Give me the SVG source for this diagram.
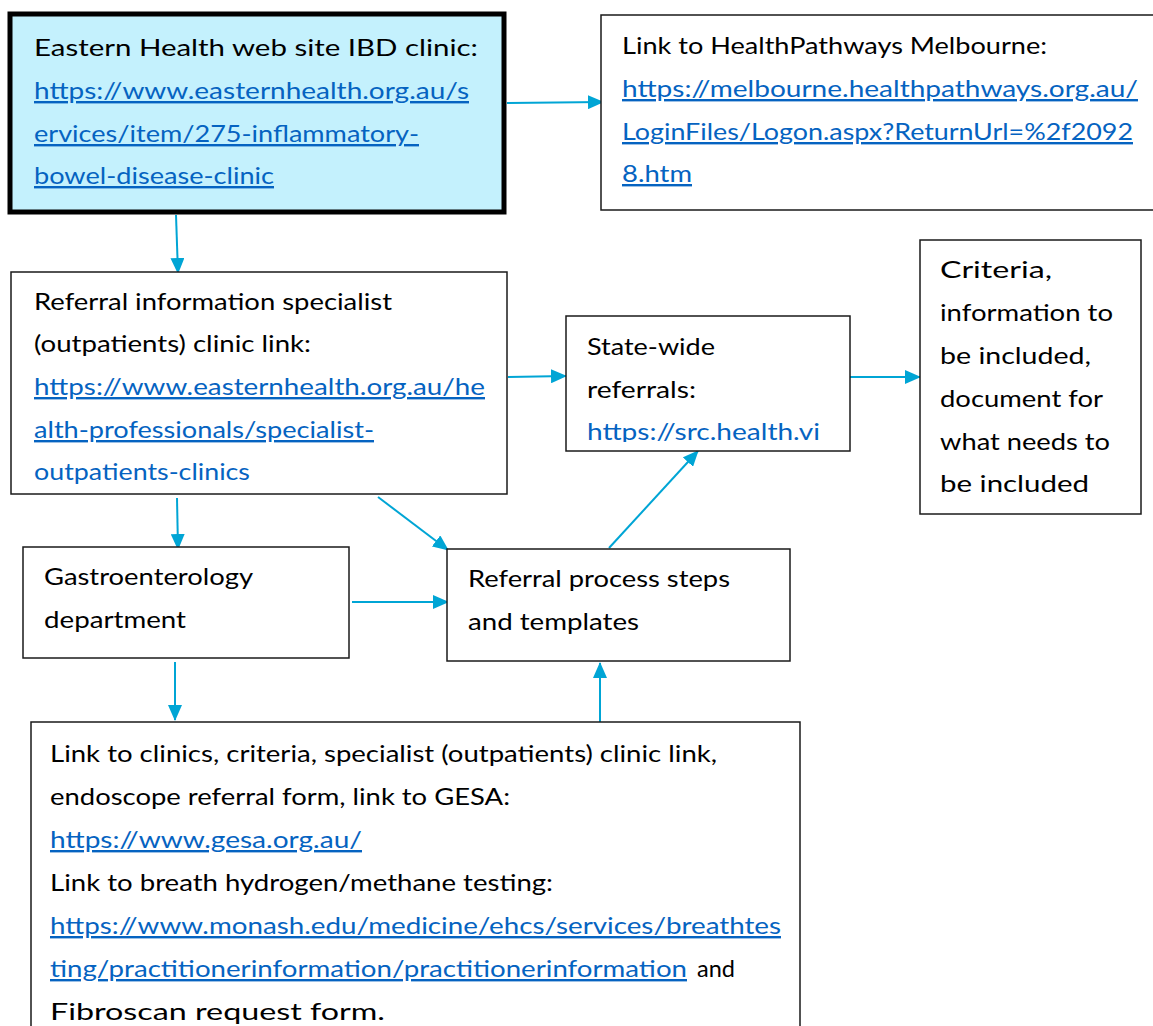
<svg xmlns="http://www.w3.org/2000/svg" width="1153" height="1026" viewBox="0 0 1153 1026">
<style>
.box{fill:#fff;stroke:#1a1a1a;stroke-width:1.5}
.main{fill:#c4f1fd;stroke:#000;stroke-width:5}
text{font-family:Lato,"Open Sans","Liberation Sans",sans-serif;font-size:24px;fill:#000}
.lk{fill:#0563c1;text-decoration:underline}
.lkn{fill:#0563c1}
.c{stroke:#00a5d5;stroke-width:2;fill:none;marker-end:url(#ah)}
</style>
<defs>
<marker id="ah" markerUnits="userSpaceOnUse" markerWidth="16" markerHeight="14" refX="15" refY="7" orient="auto">
<path d="M0,0 L16,7 L0,14 Z" fill="#00a5d5"/>
</marker>
<clipPath id="clip4"><rect x="566" y="316" width="284" height="126"/></clipPath>
</defs>
<g id="connectors">
<line class="c" x1="507" y1="103" x2="603" y2="102"/>
<line class="c" x1="176" y1="215" x2="178" y2="273"/>
<line class="c" x1="508" y1="377" x2="566" y2="376"/>
<line class="c" x1="850" y1="377" x2="920" y2="377"/>
<line class="c" x1="177" y1="498" x2="178" y2="549"/>
<line class="c" x1="378" y1="497" x2="448" y2="550"/>
<line class="c" x1="352" y1="602" x2="448" y2="602"/>
<line class="c" x1="609" y1="548" x2="698" y2="451"/>
<line class="c" x1="175" y1="662" x2="175" y2="720"/>
<line class="c" x1="600" y1="722" x2="600" y2="663"/>
</g>
<g id="n1">
<rect class="main" x="10" y="14" width="494" height="198"/>
<text x="34" y="56" textLength="444" lengthAdjust="spacingAndGlyphs">Eastern Health web site IBD clinic:</text>
<text class="lk" x="34" y="99" textLength="435" lengthAdjust="spacingAndGlyphs">https://www.easternhealth.org.au/s</text>
<text class="lk" x="34" y="142" textLength="385" lengthAdjust="spacingAndGlyphs">ervices/item/275-inflammatory-</text>
<text class="lk" x="34" y="184" textLength="240" lengthAdjust="spacingAndGlyphs">bowel-disease-clinic</text>
</g>
<g id="n2">
<path class="box" d="M1155,15 H601 V210 H1155"/>
<text x="622" y="54" textLength="425" lengthAdjust="spacingAndGlyphs">Link to HealthPathways Melbourne:</text>
<text class="lk" x="622" y="97" textLength="516" lengthAdjust="spacingAndGlyphs">https://melbourne.healthpathways.org.au/</text>
<text class="lk" x="622" y="140" textLength="511" lengthAdjust="spacingAndGlyphs">LoginFiles/Logon.aspx?ReturnUrl=%2f2092</text>
<text class="lk" x="622" y="182" textLength="70" lengthAdjust="spacingAndGlyphs">8.htm</text>
</g>
<g id="n3">
<rect class="box" x="11" y="272" width="496" height="222"/>
<text x="34" y="310" textLength="358" lengthAdjust="spacingAndGlyphs">Referral information specialist</text>
<text x="34" y="352" textLength="277" lengthAdjust="spacingAndGlyphs">(outpatients) clinic link:</text>
<text class="lk" x="34" y="395" textLength="451" lengthAdjust="spacingAndGlyphs">https://www.easternhealth.org.au/he</text>
<text class="lk" x="34" y="438" textLength="340" lengthAdjust="spacingAndGlyphs">alth-professionals/specialist-</text>
<text class="lkn" x="34" y="480" textLength="216" lengthAdjust="spacingAndGlyphs">outpatients-clinics</text>
</g>
<g id="n4">
<rect class="box" x="566" y="316" width="284" height="135"/>
<text x="587" y="355" textLength="128" lengthAdjust="spacingAndGlyphs">State-wide</text>
<text x="587" y="398" textLength="109" lengthAdjust="spacingAndGlyphs">referrals:</text>
<text class="lkn" x="587" y="440" textLength="233" lengthAdjust="spacingAndGlyphs" clip-path="url(#clip4)">https://src.health.vi</text>
</g>
<g id="n5">
<rect class="box" x="920" y="240" width="221" height="274"/>
<text x="940" y="278" textLength="112" lengthAdjust="spacingAndGlyphs">Criteria,</text>
<text x="940" y="321" textLength="173" lengthAdjust="spacingAndGlyphs">information to</text>
<text x="940" y="364" textLength="151" lengthAdjust="spacingAndGlyphs">be included,</text>
<text x="940" y="407" textLength="163" lengthAdjust="spacingAndGlyphs">document for</text>
<text x="940" y="450" textLength="170" lengthAdjust="spacingAndGlyphs">what needs to</text>
<text x="940" y="492" textLength="149" lengthAdjust="spacingAndGlyphs">be included</text>
</g>
<g id="n6">
<rect class="box" x="23" y="547" width="326" height="111"/>
<text x="44" y="585" textLength="209" lengthAdjust="spacingAndGlyphs">Gastroenterology</text>
<text x="44" y="628" textLength="142" lengthAdjust="spacingAndGlyphs">department</text>
</g>
<g id="n7">
<rect class="box" x="447" y="549" width="343" height="112"/>
<text x="468" y="587" textLength="262" lengthAdjust="spacingAndGlyphs">Referral process steps</text>
<text x="468" y="630" textLength="171" lengthAdjust="spacingAndGlyphs">and templates</text>
</g>
<g id="n8">
<path class="box" d="M31,1030 V722 H800 V1030"/>
<text x="50" y="762" textLength="667" lengthAdjust="spacingAndGlyphs">Link to clinics, criteria, specialist (outpatients) clinic link,</text>
<text x="50" y="805" textLength="460" lengthAdjust="spacingAndGlyphs">endoscope referral form, link to GESA:</text>
<text class="lk" x="50" y="848" textLength="312" lengthAdjust="spacingAndGlyphs">https://www.gesa.org.au/</text>
<text x="50" y="891" textLength="503" lengthAdjust="spacingAndGlyphs">Link to breath hydrogen/methane testing:</text>
<text class="lk" x="50" y="934" textLength="731" lengthAdjust="spacingAndGlyphs">https://www.monash.edu/medicine/ehcs/services/breathtes</text>
<text x="50" y="977"><tspan class="lk" textLength="637" lengthAdjust="spacingAndGlyphs">ting/practitionerinformation/practitionerinformation</tspan><tspan x="691" textLength="44" lengthAdjust="spacingAndGlyphs"> and</tspan></text>
<text x="50" y="1020" textLength="335" lengthAdjust="spacingAndGlyphs">Fibroscan request form.</text>
</g>
</svg>
